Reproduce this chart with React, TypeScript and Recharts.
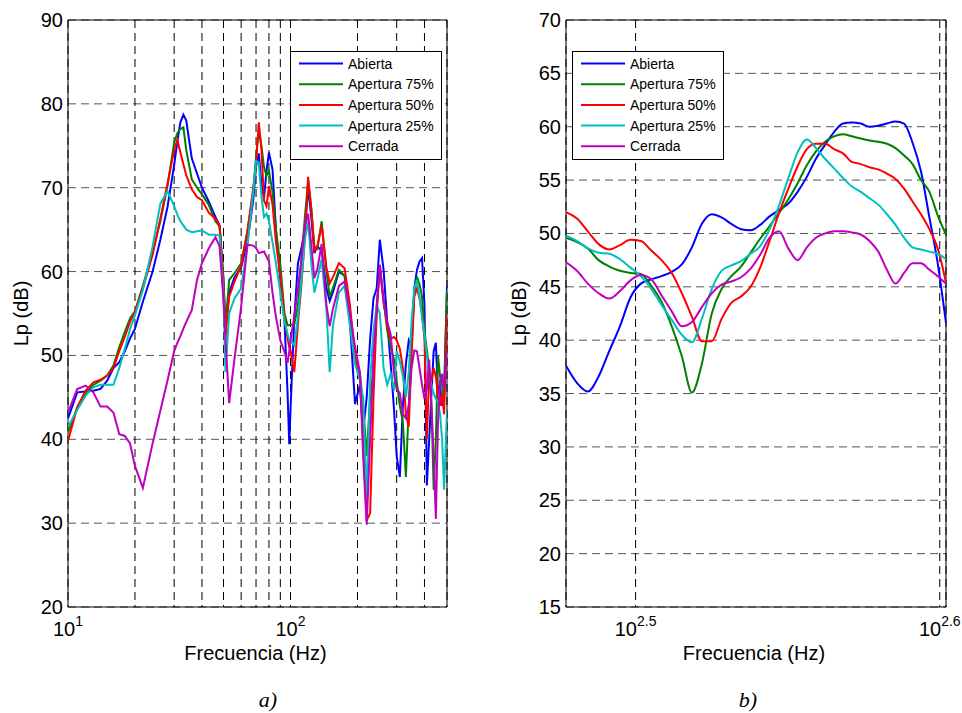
import React from 'react';
import { LineChart, Line, XAxis, YAxis, CartesianGrid, Legend, ReferenceArea } from 'recharts';

const FONT = '"Liberation Sans", Arial, Helvetica, sans-serif';
const SERIF = '"Liberation Serif", "Times New Roman", serif';

const seriesKeys = ['abierta', 'ap75', 'ap50', 'ap25', 'cerrada'];
const seriesNames = ['Abierta', 'Apertura 75%', 'Apertura 50%', 'Apertura 25%', 'Cerrada'];
const seriesColors = ['#0000FF', '#008000', '#FF0000', '#00BFBF', '#BF00BF'];

// ---------- Panel a ----------
const freqA = [
  10, 11, 12, 13, 14, 15, 16, 17, 18, 19,
  20, 21.7, 24, 26, 28, 30, 31, 32, 33, 34,
  36, 38, 40, 43, 46, 48, 50, 51, 53, 56,
  60, 64, 68, 70, 72, 74, 76, 78, 80, 83,
  86, 90, 94, 97, 98.7, 100, 104, 108, 112, 116,
  120, 124, 128, 132, 138, 145, 150, 155, 165, 175,
  185, 195, 205, 212, 220, 228, 236, 244, 252, 262,
  272, 282, 292, 300, 310, 320, 330, 340, 350, 360,
  370, 380, 390, 400, 410, 420, 430, 440, 450, 460,
  470, 480, 490, 505,
];
const abiertaA = [
  42.5, 45.6, 45.7, 45.8, 46.0, 47.0, 48.5, 49.2, 50.5, 52.0,
  53.2, 56.4, 60.0, 63.8, 67.7, 72.7, 75.5, 77.8, 78.7, 78.0,
  73.5, 71.7, 70.0, 68.3, 66.5, 65.5, 59.0, 53.0, 57.5, 59.3,
  60.5, 63.5, 68.5, 72.5, 74.1, 70.5, 68.7, 72.0, 74.2, 72.2,
  65.0, 59.0, 54.0, 45.5, 39.4, 43.5, 54.5, 61.0, 62.8, 65.0,
  70.0, 66.5, 62.2, 63.0, 62.5, 58.0, 56.5, 57.5, 60.0, 59.5,
  54.0, 44.2, 46.5, 41.0, 45.0, 52.0, 56.8, 58.0, 63.8, 60.2,
  54.0, 49.0, 43.5, 38.0, 35.5, 44.0, 49.0, 51.8, 51.0, 58.0,
  60.2, 61.2, 61.6, 56.0, 34.5, 40.0, 45.5, 50.5, 51.5, 45.5,
  46.5, 44.0, 45.5, 58.3,
];
const ap75A = [
  40.8, 43.8, 45.5, 46.5, 47.0, 47.6, 48.8, 51.0, 52.8, 54.4,
  55.3, 58.3, 62.3, 66.0, 70.2, 75.4, 76.5, 77.0, 77.2, 74.5,
  71.0, 70.0, 69.2, 67.9, 66.0, 65.4, 59.0, 53.5, 59.0, 59.8,
  61.0, 64.8, 69.5, 73.8, 76.8, 75.0, 72.5, 71.4, 72.0, 69.5,
  65.0, 60.8, 55.0, 53.6, 53.6, 53.7, 53.7, 56.0, 61.5, 66.5,
  70.8, 67.5, 63.0, 62.7, 66.0, 60.0, 57.0, 58.0, 60.2, 59.5,
  55.5, 49.0, 48.0, 44.0, 38.0, 45.0, 48.0, 56.0, 60.5, 56.6,
  53.0, 51.0, 49.5, 47.0, 44.0, 42.0, 35.5, 44.0, 52.0, 57.5,
  59.4, 58.5, 57.0, 53.0, 50.6, 48.5, 44.0, 34.0, 40.0, 50.0,
  47.5, 46.5, 45.0, 57.8,
];
const ap50A = [
  39.8, 43.8, 45.8, 46.8, 47.1, 47.6, 48.5, 50.5, 52.2, 54.0,
  55.2, 58.0, 62.0, 66.3, 70.5, 74.5, 75.7, 74.2, 72.8, 71.5,
  69.8, 68.9, 68.5, 67.0, 66.3, 65.5, 58.0, 52.0, 57.0, 58.8,
  60.7, 64.8, 70.0, 72.8, 77.8, 74.7, 68.5, 67.8, 70.2, 68.0,
  63.5, 59.5, 54.5, 52.0, 51.0, 50.6, 48.0, 53.8, 58.5, 64.0,
  71.3, 67.5, 62.5, 63.0, 65.5, 60.5, 58.6, 59.3, 61.0, 60.4,
  56.0, 50.0, 47.3, 40.0, 30.3, 31.2, 45.0, 55.0, 60.8, 56.6,
  53.5, 52.0, 52.2, 51.8, 50.8, 48.5, 43.0, 41.5, 50.0, 57.0,
  58.0, 56.8, 55.0, 52.0, 40.0, 48.0, 47.0, 48.5, 47.5, 45.0,
  44.0, 45.5, 43.0, 55.0,
];
const ap25A = [
  41.5, 43.5, 45.2, 46.2, 46.5, 46.5, 46.5, 48.5, 50.8, 53.1,
  54.8, 57.8, 63.0, 68.1, 69.6, 67.8, 66.8, 66.0, 65.5, 65.0,
  64.7, 64.8, 64.9, 64.4, 64.4, 64.3, 57.0, 48.0, 55.0, 56.8,
  58.0, 63.0, 69.5, 73.2, 73.0, 69.0, 66.5, 66.9, 66.0, 63.5,
  61.0, 57.5, 54.0, 52.6, 51.8, 51.8, 51.2, 54.6, 59.0, 63.8,
  66.0, 61.0, 57.5, 59.0, 61.5, 55.5, 48.0, 53.5, 57.5, 58.3,
  53.5, 49.0, 47.0, 45.0, 33.0, 47.0, 53.0, 56.0, 55.0, 48.5,
  46.5, 47.8, 45.8, 50.5, 49.3, 47.5, 45.0, 48.0, 54.0, 58.0,
  59.0, 57.0, 54.5, 52.5, 50.0, 47.5, 46.5, 45.5, 44.8, 44.5,
  43.0, 40.0, 34.0, 43.5,
];
const cerradaA = [
  43.2, 46.0, 46.4, 45.6, 43.9, 43.9, 43.2, 40.6, 40.4, 39.5,
  36.8, 34.2, 39.5, 43.4, 47.0, 50.5, 51.5, 52.3, 53.2, 54.0,
  55.4, 59.0, 61.0, 62.8, 64.1, 63.0, 56.5, 52.0, 44.3, 49.6,
  55.8, 63.2, 63.1, 62.8, 62.2, 62.3, 62.4, 61.8, 61.2, 57.5,
  54.6, 51.8, 50.4, 49.1, 50.5, 51.8, 54.7, 58.0, 61.5, 65.5,
  66.9, 63.2, 59.2, 60.3, 63.3, 56.0, 53.5, 55.5, 58.3, 58.8,
  55.0, 51.0, 48.0, 38.0, 29.8, 40.0, 50.0, 55.5, 60.8, 56.2,
  54.0, 52.5, 47.8, 46.0, 45.5, 43.0, 42.5, 44.0, 48.5, 50.6,
  50.5, 48.5, 46.5, 44.8, 46.0, 49.5, 44.0, 38.0, 30.5, 42.0,
  47.0, 47.8, 46.0, 50.3,
];
const xTicksA = [10, 20, 30, 40, 50, 60, 70, 80, 90, 100, 200, 300, 400];
const xTickExpA = ['1', '', '', '', '', '', '', '', '', '2', '', '', ''];
const yTicksA = [20, 30, 40, 50, 60, 70, 80, 90];
const xDomainA = [10, 505];
const yDomainA = [20, 90];

// ---------- Panel b ----------
const freqB = [
  300, 302.5, 305, 307.5, 310, 312.5, 315, 317.5, 320, 322.5,
  325, 327.5, 330, 332.5, 335, 337.5, 340, 342.5, 345, 347.5,
  350, 352.5, 355, 357.5, 360, 362.5, 365, 367.5, 370, 372.5,
  375, 377.5, 380, 382.5, 385, 387.5, 390, 392.5, 395, 397.5, 400,
];
const abiertaB = [
  37.6, 36.0, 35.2, 36.6, 39.0, 41.3, 44.0, 45.3, 45.7, 46.0,
  46.4, 47.1, 48.7, 50.9, 51.8, 51.5, 50.9, 50.4, 50.3, 50.8,
  51.6, 52.2, 52.8, 53.9, 55.3, 57.0, 58.3, 59.5, 60.3, 60.4,
  60.3, 60.0, 60.1, 60.3, 60.5, 60.3, 58.5, 55.8, 51.5, 47.2, 41.6,
];
const ap75B = [
  49.6, 49.2, 48.6, 47.5, 46.9, 46.5, 46.3, 46.2, 45.1, 43.6,
  41.3, 38.5, 35.1, 37.8, 42.5, 44.8, 46.0, 46.9, 48.2, 49.5,
  50.7, 51.9, 53.2, 54.7, 56.4, 57.7, 58.6, 59.1, 59.3, 59.1,
  58.9, 58.7, 58.6, 58.4, 58.0, 57.3, 56.5, 55.0, 53.9, 51.7, 49.9,
];
const ap50B = [
  52.0, 51.4, 50.2, 49.0, 48.5, 48.9, 49.4, 49.3, 48.4, 47.5,
  46.3, 44.4, 42.2, 39.9, 39.9, 42.0, 43.5, 44.1, 45.0, 46.8,
  49.3, 51.9, 54.2, 56.3, 57.9, 58.4, 58.4, 57.9, 57.5, 56.7,
  56.5, 56.2, 56.0, 55.6, 55.1, 54.2, 53.0, 51.8, 50.4, 48.6, 45.4,
];
const ap25B = [
  49.8, 49.3, 48.6, 48.2, 48.1, 47.6, 46.8, 46.0, 44.8, 43.3,
  41.9, 40.5, 39.8, 42.0, 44.8, 46.5, 47.0, 47.4, 48.1, 48.8,
  50.4, 52.6, 55.2, 57.6, 58.8, 58.0, 57.0, 56.1, 55.2, 54.4,
  53.9, 53.3, 52.7, 51.8, 50.8, 49.6, 48.7, 48.5, 48.3, 48.1, 47.6,
];
const cerradaB = [
  47.3, 46.5, 45.3, 44.4, 43.9, 44.6, 45.6, 46.1, 45.7, 44.2,
  42.7, 41.3, 41.7, 43.1, 44.4, 45.2, 45.5, 45.9, 46.7, 48.0,
  49.6, 50.2, 48.6, 47.5, 48.7, 49.6, 50.0, 50.2, 50.2, 50.1,
  49.9, 49.3, 48.3, 46.6, 45.3, 46.3, 47.2, 47.2, 46.6, 46.0, 45.3,
];
const xTicksB = [316.2278, 398.1072];
const xTickExpB = ['2.5', '2.6'];
const yTicksB = [15, 20, 25, 30, 35, 40, 45, 50, 55, 60, 65, 70];
const xDomainB = [300, 400];
const yDomainB = [15, 70];

const build = (freq: number[], cols: number[][]) =>
  freq.map((f, i) => {
    const row: any = { f };
    seriesKeys.forEach((k, j) => { row[k] = cols[j][i]; });
    return row;
  });

const dataA = build(freqA, [abiertaA, ap75A, ap50A, ap25A, cerradaA]);
const dataB = build(freqB, [abiertaB, ap75B, ap50B, ap25B, cerradaB]);

const makeXTick = (ticks: number[], exps: string[]) => (props: any) => {
  const { x, y, payload } = props;
  const idx = ticks.findIndex((t) => Math.abs(t - payload.value) < 1e-6);
  const exp = idx >= 0 ? exps[idx] : '';
  if (!exp) return <g />;
  return (
    <text x={x} y={y + 29} textAnchor="middle" fontSize={20} fontFamily={FONT} fill="#000">
      <tspan>10</tspan>
      <tspan dy={-10} fontSize={14}>{exp}</tspan>
    </text>
  );
};

const YTick = (props: any) => {
  const { x, y, payload } = props;
  return (
    <text x={x} y={y} dy={7} textAnchor="end" fontSize={20} fontFamily={FONT} fill="#000">
      {payload.value}
    </text>
  );
};

const YTitle = (props: any) => {
  const vb = props.viewBox || { x: 0, y: 0, width: 0, height: 0 };
  const cx = vb.x + vb.width - 47;
  const cy = vb.y + vb.height / 2;
  return (
    <text x={cx} y={cy} transform={`rotate(-90 ${cx} ${cy})`} textAnchor="middle" dominantBaseline="central"
      fontSize={20} fontFamily={FONT} fill="#000">
      Lp (dB)
    </text>
  );
};

const makeXTitle = (caption: string) => (props: any) => {
  const vb = props.viewBox || { x: 0, y: 0, width: 0, height: 0 };
  return (
    <g>
      <text x={vb.x + vb.width / 2 - 2} y={vb.y + 53} textAnchor="middle" fontSize={20} fontFamily={FONT} fill="#000">
        Frecuencia (Hz)
      </text>
      <text x={268} y={707} textAnchor="middle" fontSize={22} fontStyle="italic" fontFamily={SERIF} fill="#000">
        {caption}
      </text>
    </g>
  );
};

const LegendBox = () => (
  <svg width={152} height={109} style={{ display: 'block' }}>
    <rect x={0.5} y={0.5} width={151} height={108} fill="#fff" stroke="#000" strokeWidth={1} />
    {seriesNames.map((name, i) => {
      const cy = 12.5 + i * 20.7;
      return (
        <g key={name}>
          <line x1={9} x2={53} y1={cy} y2={cy} stroke={seriesColors[i]} strokeWidth={2} />
          <text x={58} y={cy + 5} fontSize={14} fontFamily={FONT} fill="#000">{name}</text>
        </g>
      );
    })}
  </svg>
);

type PanelProps = {
  data: any[];
  width: number;
  margin: any;
  xDomain: number[];
  yDomain: number[];
  xTicks: number[];
  xExps: string[];
  yTicks: number[];
  legendLeft: number;
  caption: string;
  curve: 'linear' | 'monotone';
};

const Panel = (p: PanelProps) => {
  const XTick = makeXTick(p.xTicks, p.xExps);
  const XTitle = makeXTitle(p.caption);
  return (
    <LineChart width={p.width} height={713} data={p.data} margin={p.margin} style={{ overflow: 'visible' }}>
      <CartesianGrid horizontal={true} vertical={false} stroke="#555" strokeDasharray="8 5" />
      <CartesianGrid horizontal={false} vertical={true} stroke="#000" strokeDasharray="8 5" />
      <XAxis
        dataKey="f"
        type="number"
        scale="log"
        domain={p.xDomain}
        allowDataOverflow
        ticks={p.xTicks}
        interval={0}
        height={30}
        tickSize={0}
        tickMargin={0}
        axisLine={false}
        tickLine={false}
        tick={<XTick />}
        label={<XTitle />}
      />
      <YAxis
        type="number"
        domain={p.yDomain}
        allowDataOverflow
        ticks={p.yTicks}
        interval={0}
        width={60}
        tickSize={0}
        tickMargin={5}
        axisLine={false}
        tickLine={false}
        tick={<YTick />}
        label={<YTitle />}
      />
      {seriesKeys.map((k, i) => (
        <Line
          key={k}
          type={p.curve}
          dataKey={k}
          name={seriesNames[i]}
          stroke={seriesColors[i]}
          strokeWidth={2}
          dot={false}
          activeDot={false}
          isAnimationActive={false}
        />
      ))}
      <ReferenceArea
        x1={p.xDomain[0]}
        x2={p.xDomain[1]}
        y1={p.yDomain[0]}
        y2={p.yDomain[1]}
        fill="none"
        fillOpacity={0}
        stroke="#000"
        strokeWidth={1}
        ifOverflow="visible"
      />
      <Legend
        layout="vertical"
        verticalAlign="middle"
        align="center"
        content={<LegendBox />}
        wrapperStyle={{ left: p.legendLeft, top: 51, width: 152, height: 109 }}
      />
    </LineChart>
  );
};

const App = () => (
  <div style={{ position: 'absolute', left: 0, top: 0, width: 962, height: 713, background: '#fff' }}>
    <div style={{ position: 'absolute', left: 0, top: 0 }}>
      <Panel
        data={dataA}
        width={480}
        margin={{ top: 20, right: 33, bottom: 76, left: 8 }}
        xDomain={xDomainA}
        yDomain={yDomainA}
        xTicks={xTicksA}
        xExps={xTickExpA}
        yTicks={yTicksA}
        legendLeft={290}
        caption="a)"
        curve="linear"
      />
    </div>
    <div style={{ position: 'absolute', left: 480, top: 0 }}>
      <Panel
        data={dataB}
        width={482}
        margin={{ top: 20, right: 16, bottom: 76, left: 26 }}
        xDomain={xDomainB}
        yDomain={yDomainB}
        xTicks={xTicksB}
        xExps={xTickExpB}
        yTicks={yTicksB}
        legendLeft={92}
        caption="b)"
        curve="monotone"
      />
    </div>
  </div>
);

export default App;
